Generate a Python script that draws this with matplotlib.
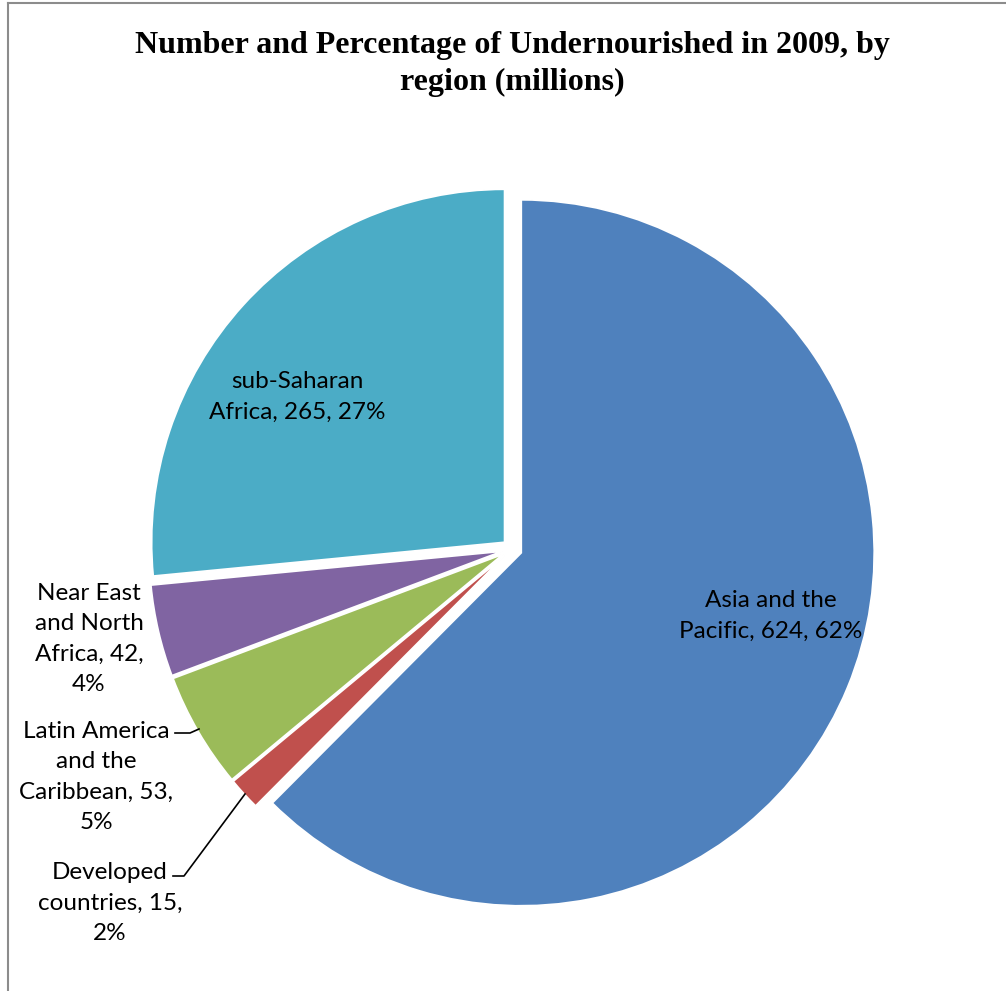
import matplotlib.pyplot as plt
from matplotlib.lines import Line2D

regions = ['Asia and the Pacific', 'Developed countries', 'Latin America and the Caribbean',
           'Near East and North Africa', 'sub-Saharan Africa']
millions = [624, 15, 53, 42, 265]
percents = [62, 2, 5, 4, 27]
colors = ['#4F81BD', '#C0504D', '#9BBB59', '#8064A2', '#4BACC6']

# label text as broken in the original chart, and where it sits (pixels)
label_text = ['Asia and the\nPacific, 624, 62%',
              'Developed\ncountries, 15,\n2%',
              'Latin America\nand the\nCaribbean, 53,\n5%',
              'Near East\nand North\nAfrica, 42,\n4%',
              'sub-Saharan\nAfrica, 265, 27%']
label_pos = [(771, 616), (110, 903), (96, 777), (89, 639), (297, 397)]

W, H = 1006, 991
fig = plt.figure(figsize=(W / 100, H / 100), dpi=100)
ax = fig.add_axes([0, 0, 1, 1])

# explode is in data units here (pixels), every slice pulled out a little
ax.pie(millions, colors=colors, startangle=90, counterclock=False,
       center=(512, H - 549), radius=353, explode=[10] * len(millions),
       wedgeprops=dict(edgecolor='white', linewidth=1.3), frame=True)
ax.set_xlim(0, W)
ax.set_ylim(0, H)
ax.set_aspect('equal')
ax.axis('off')

for txt, (px, py) in zip(label_text, label_pos):
    ax.text(px, H - py, txt, ha='center', va='center', fontsize=17.5,
            family='Lato', linespacing=1.55, color='black')

# leader lines for the two small slices
ax.plot([175, 190, 199], [H - 733, H - 733, H - 729], color='black', lw=1.2)
ax.plot([173, 184, 245], [H - 876, H - 876, H - 794], color='black', lw=1.2)

fig.text(0.509, 1 - 46 / H, 'Number and Percentage of Undernourished in 2009, by',
         ha='center', va='center', fontsize=23, fontweight='bold',
         family='Liberation Serif')
fig.text(0.509, 1 - 82 / H, 'region (millions)', ha='center', va='center',
         fontsize=23, fontweight='bold', family='Liberation Serif')

# chart border (only top and left visible in the reference)
fig.add_artist(Line2D([8 / W, 1], [1 - 3 / H, 1 - 3 / H], color='#8c8c8c', lw=1.5))
fig.add_artist(Line2D([8 / W, 8 / W], [0, 1 - 3 / H], color='#8c8c8c', lw=1.5))

plt.savefig('out.png', dpi=100)
